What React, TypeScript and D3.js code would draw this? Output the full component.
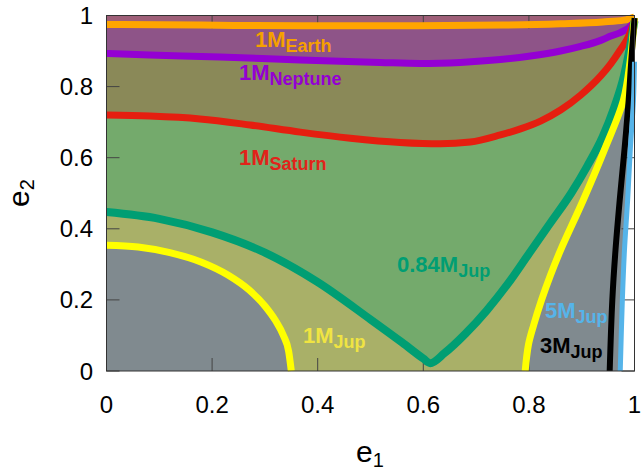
import React from 'react';
import * as d3 from 'd3';

const xTicks = [0, 0.2, 0.4, 0.6, 0.8, 1];
const yTicks = [0, 0.2, 0.4, 0.6, 0.8, 1];
const tickLabels = ['0', '0.2', '0.4', '0.6', '0.8', '1'];

// 1 M_Earth
const earthE1 = [0, 0.18, 0.37, 0.59, 0.75, 0.86, 0.94, 0.98, 1.0];
const earthE2 = [0.975, 0.973, 0.971, 0.971, 0.973, 0.977, 0.982, 0.987, 0.996];
// 1 M_Neptune
const neptuneE1 = [0, 0.082, 0.215, 0.367, 0.518, 0.594, 0.67, 0.746, 0.803, 0.86, 0.898, 0.936, 0.955, 0.973, 0.989, 1.0];
const neptuneE2 = [0.893, 0.889, 0.883, 0.875, 0.868, 0.865, 0.868, 0.876, 0.886, 0.9, 0.913, 0.93, 0.942, 0.952, 0.965, 0.982];
// 1 M_Saturn
const saturnE1 = [0, 0.082, 0.177, 0.272, 0.367, 0.462, 0.556, 0.632, 0.689, 0.746, 0.784, 0.822, 0.86, 0.898, 0.936, 0.955, 0.973, 0.989, 1.0];
const saturnE2 = [0.72, 0.717, 0.709, 0.692, 0.672, 0.655, 0.643, 0.639, 0.644, 0.664, 0.681, 0.703, 0.734, 0.776, 0.83, 0.864, 0.903, 0.942, 0.987];
// 0.84 M_Jup
const jup084E1 = [0, 0.1, 0.2, 0.3, 0.4, 0.5, 0.56, 0.6, 0.613, 0.64, 0.68, 0.72, 0.76, 0.8, 0.84, 0.88, 0.91, 0.94, 0.96, 0.98, 0.99, 1.0];
const jup084E2 = [0.447, 0.428, 0.39, 0.333, 0.25, 0.145, 0.08, 0.035, 0.022, 0.05, 0.105, 0.17, 0.245, 0.33, 0.415, 0.5, 0.575, 0.66, 0.735, 0.83, 0.9, 0.985];
// 1 M_Jup, inner (left) branch
const jup1LeftE1 = [0, 0.06, 0.12, 0.18, 0.23, 0.27, 0.3, 0.32, 0.335, 0.345, 0.35];
const jup1LeftE2 = [0.354, 0.349, 0.333, 0.306, 0.27, 0.228, 0.183, 0.142, 0.1, 0.055, 0];
// 1 M_Jup, outer (right) branch
const jup1RightE1 = [0.793, 0.799, 0.809, 0.824, 0.841, 0.86, 0.903, 0.943, 0.979, 0.992, 1.0];
const jup1RightE2 = [0, 0.073, 0.129, 0.2, 0.27, 0.34, 0.481, 0.622, 0.762, 0.875, 0.993];
// 3 M_Jup
const jup3E1 = [0.953, 0.958, 0.964, 0.972, 0.981, 0.989, 0.994, 1.0];
const jup3E2 = [0, 0.2, 0.34, 0.481, 0.622, 0.762, 0.875, 0.993];
// 5 M_Jup
const jup5E1 = [0.973, 0.977, 0.981, 0.987, 0.992, 0.998, 1.0];
const jup5E2 = [0, 0.2, 0.34, 0.481, 0.622, 0.762, 0.87];

const W = 641;
const H = 470;
const L = 106.5, R = 634.5, T = 15.5, B = 371;

const zip = (a: number[], b: number[]) => a.map((v, i) => [v, b[i]] as [number, number]);

export default function App() {
  const x = d3.scaleLinear().domain([0, 1]).range([L, R]);
  const y = d3.scaleLinear().domain([0, 1]).range([B, T]);
  const cx = d3.curveMonotoneX;
  const cr = d3.curveCatmullRom.alpha(0.5);
  const lineX = d3.line<[number, number]>().x(d => x(d[0])).y(d => y(d[1])).curve(cx);
  const lineR = d3.line<[number, number]>().x(d => x(d[0])).y(d => y(d[1])).curve(cr);
  const area = d3.area<[number, number]>().x(d => x(d[0])).y0(y(0)).y1(d => y(d[1])).curve(cx);

  const earth = zip(earthE1, earthE2);
  const neptune = zip(neptuneE1, neptuneE2);
  const saturn = zip(saturnE1, saturnE2);
  const j084 = zip(jup084E1, jup084E2);
  const j1L = zip(jup1LeftE1, jup1LeftE2);
  const j1R = zip(jup1RightE1, jup1RightE2);
  const j3 = zip(jup3E1, jup3E2);
  const j5 = zip(jup5E1, jup5E2);

  const rightRegion = (pts: [number, number][]) =>
    (lineR(pts) as string) + `L${x(1)},${y(pts[pts.length - 1][1])}L${x(1)},${y(0)}Z`;

  const font = '"Liberation Sans", Arial, Helvetica, sans-serif';
  const tickLen = 13;

  const lab = (px: number, py: number, main: string, sub: string, color: string) => (
    <text x={px} y={py} fill={color} fontFamily={font} fontWeight="bold" fontSize={22}>
      {main}
      <tspan dy={5} fontSize={18}>{sub}</tspan>
    </text>
  );

  return (
    <svg width={W} height={H} style={{ position: 'absolute', left: 0, top: 0 }}>
      <defs>
        <clipPath id="plot">
          <rect x={L} y={T} width={R - L} height={B - T} />
        </clipPath>
      </defs>
      <g clipPath="url(#plot)">
        <rect x={L} y={T} width={R - L} height={B - T} fill="#9e5f78" />
        <path d={area(earth) as string} fill="#8e5488" />
        <path d={area(neptune) as string} fill="#8a8958" />
        <path d={area(saturn) as string} fill="#74aa6c" />
        <path d={area(j084) as string} fill="#a9b068" />
        <path d={area(j1L) as string} fill="#808a8f" />
        <path d={rightRegion(j1R)} fill="#808a8f" />
        <path d={rightRegion(j5)} fill="#ffffff" />
      </g>
      <g stroke="#444" strokeWidth={1}>
        {xTicks.map((t, i) => (
          <g key={'xt' + i}>
            <line x1={x(t)} x2={x(t)} y1={B} y2={B - tickLen} />
            <line x1={x(t)} x2={x(t)} y1={T} y2={T + tickLen} />
          </g>
        ))}
        {yTicks.map((t, i) => (
          <g key={'yt' + i}>
            <line x1={L} x2={L + tickLen} y1={y(t)} y2={y(t)} />
            <line x1={R} x2={R - tickLen} y1={y(t)} y2={y(t)} />
          </g>
        ))}
      </g>
      <g fill="none" strokeLinejoin="round">
        <path d={lineX(earth) as string} stroke="#ffa500" strokeWidth={7} />
        <path d={lineX(neptune) as string} stroke="#9400d3" strokeWidth={7} />
        <path d={lineX(saturn) as string} stroke="#e51e10" strokeWidth={7} />
        <path d={lineX(j084) as string} stroke="#009e73" strokeWidth={8} />
        <path d={lineX(j1L) as string} stroke="#ffff00" strokeWidth={7} />
        <path d={lineR(j1R) as string} stroke="#ffff00" strokeWidth={7} />
        <path d={lineR(j3) as string} stroke="#000000" strokeWidth={6} />
        <path d={lineR(j5) as string} stroke="#56b4e9" strokeWidth={5} />
      </g>
      <rect x={L} y={T} width={R - L} height={B - T} fill="none" stroke="#333" strokeWidth={1} />
      <g fontFamily={font} fontSize={24} fill="#000">
        {xTicks.map((t, i) => (
          <text key={'xl' + i} x={x(t)} y={413} textAnchor="middle">{tickLabels[i]}</text>
        ))}
        {yTicks.map((t, i) => (
          <text key={'yl' + i} x={93} y={y(t) + 8.5} textAnchor="end">{tickLabels[i]}</text>
        ))}
      </g>
      <text x={370} y={462} textAnchor="middle" fontFamily={font} fontSize={30}>
        e<tspan dy={5} fontSize={20}>1</tspan>
      </text>
      <text transform={`translate(29,193) rotate(-90)`} textAnchor="middle" fontFamily={font} fontSize={30}>
        e<tspan dy={5} fontSize={20}>2</tspan>
      </text>
      {lab(255, 47, '1M', 'Earth', '#f5a000')}
      {lab(239, 80, '1M', 'Neptune', '#9400d3')}
      {lab(239, 165, '1M', 'Saturn', '#e2231a')}
      {lab(397, 272, '0.84M', 'Jup', '#009e73')}
      {lab(303, 343, '1M', 'Jup', '#f0e442')}
      {lab(545, 318, '5M', 'Jup', '#56b4e9')}
      {lab(540, 353, '3M', 'Jup', '#000000')}
    </svg>
  );
}
